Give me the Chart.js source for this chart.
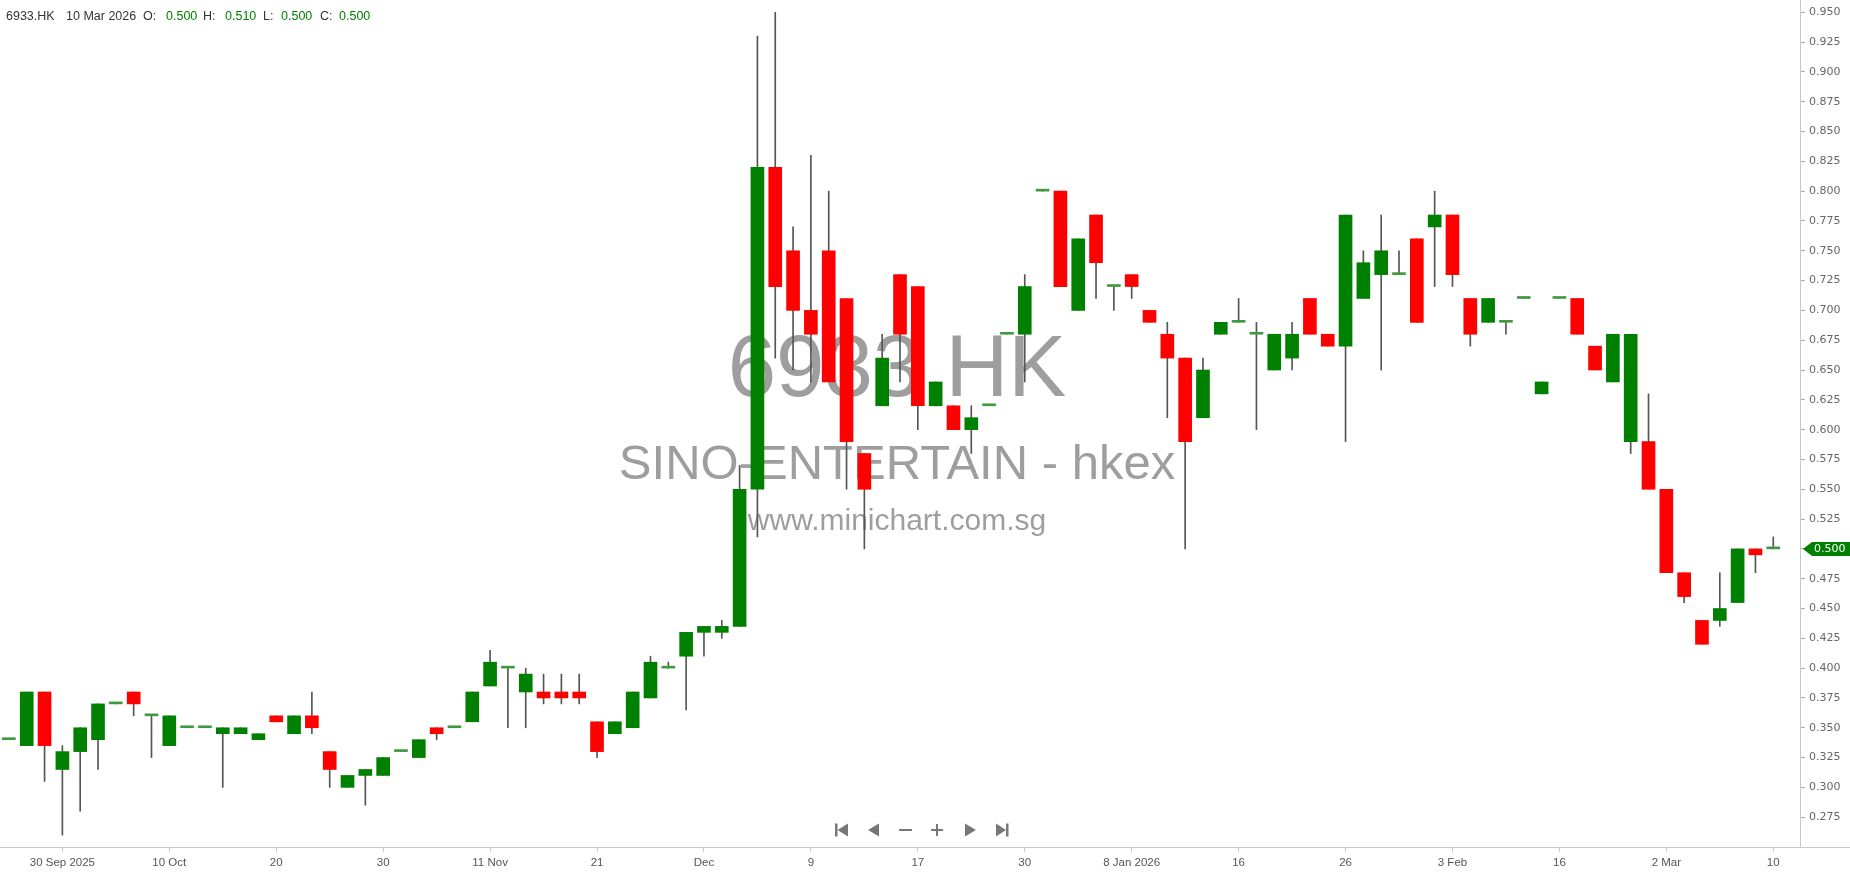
<!DOCTYPE html>
<html><head><meta charset="utf-8">
<script src="https://cdn.jsdelivr.net/npm/chart.js@4.4.1/dist/chart.umd.min.js"></script>
<style>html,body{margin:0;padding:0;background:#fff;overflow:hidden}#wrap{position:relative;width:1850px;height:874px}</style>
</head><body><div id="wrap"><canvas id="c"></canvas></div>
<script>
// ---- data (one entry per trading day) ----
const openP  = [0.34,0.335,0.38,0.315,0.33,0.34,0.37,0.38,0.36,0.335, 0.35,0.35,0.345,0.345,0.34,0.36,0.345,0.36,0.33,0.30, 0.31,0.31,0.33,0.325,0.35,0.35,0.355,0.385,0.40,0.38, 0.38,0.38,0.38,0.355,0.345,0.35,0.375,0.40,0.41,0.43, 0.43,0.435,0.55,0.82,0.75,0.70,0.75,0.71,0.58,0.62, 0.73,0.72,0.62,0.62,0.60,0.62,0.68,0.68,0.80,0.80, 0.70,0.78,0.72,0.73,0.70,0.68,0.66,0.61,0.68,0.69, 0.68,0.65,0.66,0.71,0.68,0.67,0.71,0.73,0.73,0.76, 0.77,0.78,0.71,0.69,0.69,0.71,0.63,0.71,0.71,0.67, 0.64,0.59,0.59,0.55,0.48,0.44,0.44,0.455,0.50,0.50];
const highP  = [0.34,0.38,0.38,0.335,0.35,0.37,0.37,0.38,0.36,0.36, 0.35,0.35,0.35,0.35,0.345,0.36,0.36,0.38,0.33,0.31, 0.315,0.325,0.33,0.34,0.35,0.35,0.38,0.415,0.40,0.40, 0.395,0.395,0.395,0.355,0.355,0.38,0.41,0.405,0.43,0.435, 0.44,0.57,0.93,0.95,0.77,0.83,0.80,0.71,0.58,0.68, 0.73,0.72,0.64,0.62,0.62,0.62,0.68,0.73,0.80,0.80, 0.76,0.78,0.72,0.73,0.70,0.69,0.66,0.66,0.69,0.71, 0.69,0.68,0.69,0.71,0.68,0.78,0.75,0.78,0.75,0.76, 0.80,0.78,0.71,0.71,0.69,0.71,0.64,0.71,0.71,0.67, 0.68,0.68,0.63,0.55,0.48,0.44,0.48,0.50,0.50,0.51];
const lowP   = [0.34,0.335,0.305,0.26,0.28,0.315,0.37,0.36,0.325,0.335, 0.35,0.35,0.30,0.345,0.34,0.355,0.345,0.345,0.30,0.30, 0.285,0.31,0.33,0.325,0.34,0.35,0.355,0.385,0.35,0.35, 0.37,0.37,0.37,0.325,0.345,0.35,0.375,0.40,0.365,0.41, 0.425,0.435,0.51,0.66,0.65,0.64,0.64,0.55,0.50,0.62, 0.64,0.60,0.62,0.60,0.58,0.62,0.68,0.64,0.80,0.72, 0.70,0.71,0.70,0.71,0.69,0.61,0.50,0.61,0.68,0.69, 0.60,0.65,0.65,0.68,0.67,0.59,0.71,0.65,0.73,0.69, 0.72,0.72,0.67,0.69,0.68,0.71,0.63,0.71,0.68,0.65, 0.64,0.58,0.55,0.48,0.455,0.42,0.435,0.455,0.48,0.50];
const closeP = [0.34,0.38,0.335,0.33,0.35,0.37,0.37,0.37,0.36,0.36, 0.35,0.35,0.35,0.35,0.345,0.355,0.36,0.35,0.315,0.31, 0.315,0.325,0.33,0.34,0.345,0.35,0.38,0.405,0.40,0.395, 0.375,0.375,0.375,0.33,0.355,0.38,0.405,0.40,0.43,0.435, 0.435,0.55,0.82,0.72,0.70,0.68,0.64,0.59,0.55,0.66, 0.68,0.62,0.64,0.60,0.61,0.62,0.68,0.72,0.80,0.72, 0.76,0.74,0.72,0.72,0.69,0.66,0.59,0.65,0.69,0.69, 0.68,0.68,0.68,0.68,0.67,0.78,0.74,0.75,0.73,0.69, 0.78,0.73,0.68,0.71,0.69,0.71,0.64,0.71,0.68,0.65, 0.68,0.68,0.55,0.48,0.46,0.42,0.45,0.50,0.495,0.50];
const tickLabels = ['30 Sep 2025','10 Oct','20','30','11 Nov','21','Dec','9','17','30','8 Jan 2026','16','26','3 Feb','16','2 Mar','10'];
const tickBars   = [3,9,15,21,27,33,39,45,51,57,63,69,75,81,87,93,99];
const priceTicks = [0.275,0.300,0.325,0.350,0.375,0.400,0.425,0.450,0.475,0.500,0.525,0.550,0.575,0.600,0.625,0.650,0.675,0.700,0.725,0.750,0.775,0.800,0.825,0.850,0.875,0.900,0.925,0.950];
const symbol = '6933.HK';
const company = 'SINO-ENTERTAIN - hkex';
const site = 'www.minichart.com.sg';
const lastDate = '10 Mar 2026';

// ---- build ----
const GREEN = '#008000', RED = '#ff0000', DOJI = '#3f9a3f';
const labels = openP.map(() => '');
labels.push('');
tickBars.forEach((b, k) => { labels[b] = tickLabels[k]; });
const bodyColors = closeP.map((c, i) => c > openP[i] ? GREEN : (c < openP[i] ? RED : DOJI));

const watermark = {
  id: 'watermark',
  beforeDatasetsDraw(chart) {
    const ctx = chart.ctx;
    ctx.save();
    ctx.fillStyle = '#9e9e9e';
    ctx.textAlign = 'center';
    ctx.textBaseline = 'alphabetic';
    ctx.font = '87px "Liberation Sans", Arial, sans-serif';
    ctx.fillText(symbol, 897, 396);
    ctx.font = '49px "Liberation Sans", Arial, sans-serif';
    ctx.fillText(company, 897, 479);
    ctx.font = '30px "Liberation Sans", Arial, sans-serif';
    ctx.fillText(site, 897, 530);
    ctx.restore();
  }
};

const overlay = {
  id: 'overlay',
  afterDraw(chart) {
    const ctx = chart.ctx;
    const ys = chart.scales.y;
    const area = chart.chartArea;
    ctx.save();
    // full-width x axis line
    ctx.strokeStyle = '#c8c8c8';
    ctx.lineWidth = 1;
    ctx.beginPath();
    ctx.moveTo(0, Math.round(area.bottom) + 0.5);
    ctx.lineTo(1850, Math.round(area.bottom) + 0.5);
    ctx.stroke();

    // header
    const n = closeP.length - 1;
    const hdr = [
      [symbol, 6, '#333'], [lastDate, 66, '#333'],
      ['O:', 143, '#333'], [openP[n].toFixed(3), 166, GREEN],
      ['H:', 203, '#333'], [highP[n].toFixed(3), 225, GREEN],
      ['L:', 263, '#333'], [lowP[n].toFixed(3), 281, GREEN],
      ['C:', 320, '#333'], [closeP[n].toFixed(3), 339, GREEN]
    ];
    ctx.font = '12.5px "Liberation Sans", Arial, sans-serif';
    ctx.textBaseline = 'middle';
    ctx.textAlign = 'left';
    hdr.forEach(([t, x, c]) => { ctx.fillStyle = c; ctx.fillText(t, x, 17); });

    // navigation buttons
    ctx.fillStyle = '#777';
    const cy = 830;
    ctx.fillRect(835, cy - 6.5, 2.5, 13);
    ctx.beginPath(); ctx.moveTo(837.5, cy); ctx.lineTo(848, cy - 6.5); ctx.lineTo(848, cy + 6.5); ctx.closePath(); ctx.fill();
    ctx.beginPath(); ctx.moveTo(868, cy); ctx.lineTo(879, cy - 6.5); ctx.lineTo(879, cy + 6.5); ctx.closePath(); ctx.fill();
    ctx.fillRect(899, cy - 1, 13, 2);
    ctx.fillRect(931, cy - 1, 12, 2);
    ctx.fillRect(936, cy - 6, 2, 12);
    ctx.beginPath(); ctx.moveTo(976, cy); ctx.lineTo(965, cy - 6.5); ctx.lineTo(965, cy + 6.5); ctx.closePath(); ctx.fill();
    ctx.beginPath(); ctx.moveTo(1006, cy); ctx.lineTo(996, cy - 6.5); ctx.lineTo(996, cy + 6.5); ctx.closePath(); ctx.fill();
    ctx.fillRect(1006, cy - 6.5, 2.5, 13);

    // last price badge
    const py = ys.getPixelForValue(closeP[n]);
    ctx.fillStyle = GREEN;
    ctx.beginPath();
    ctx.moveTo(1803, py);
    ctx.lineTo(1812, py - 7);
    ctx.lineTo(1850, py - 7);
    ctx.lineTo(1850, py + 7);
    ctx.lineTo(1812, py + 7);
    ctx.closePath();
    ctx.fill();
    ctx.fillStyle = '#fff';
    ctx.font = '11px "DejaVu Sans", sans-serif';
    ctx.textBaseline = 'middle';
    ctx.fillText(closeP[n].toFixed(3), 1814, py + 0.5);
    ctx.restore();
  }
};

new Chart(document.getElementById('c'), {
  type: 'bar',
  data: {
    labels: labels,
    datasets: [
      {
        label: 'wick',
        data: lowP.map((l, i) => [l, highP[i]]),
        backgroundColor: '#555',
        barThickness: 1,
        grouped: false,
        order: 2,
        borderWidth: 0
      },
      {
        label: 'body',
        data: openP.map((o, i) => [o, closeP[i]]),
        backgroundColor: bodyColors,
        barThickness: 13,
        minBarLength: 2,
        grouped: false,
        order: 1,
        borderWidth: 0
      }
    ]
  },
  options: {
    responsive: true,
    maintainAspectRatio: false,
    animation: false,
    events: [],
    layout: { padding: 0 },
    plugins: { legend: { display: false }, tooltip: { enabled: false }, title: { display: false } },
    scales: {
      x: {
        type: 'category',
        offset: true,
        border: { display: false },
        grid: { display: true, drawOnChartArea: false, drawTicks: true, tickLength: 5, tickColor: '#c8c8c8', offset: false },
        ticks: { autoSkip: false, maxRotation: 0, minRotation: 0, padding: 4, color: '#555',
                 font: { family: '"Liberation Sans", Arial, sans-serif', size: 11.5 } },
        afterBuildTicks(scale) { scale.ticks = tickBars.map(b => ({ value: b })); },
        afterFit(scale) { scale.height = 27; scale.paddingLeft = 0; scale.paddingRight = 0; }
      },
      y: {
        type: 'linear',
        position: 'right',
        min: 0.25,
        max: 0.9603,
        border: { display: true, color: '#c8c8c8' },
        grid: { display: true, drawOnChartArea: false, drawTicks: true, tickLength: 5, tickColor: '#aaa' },
        ticks: { padding: 4, color: '#666', font: { family: '"DejaVu Sans", sans-serif', size: 11 },
                 callback: v => Number(v).toFixed(3) },
        afterBuildTicks(scale) { scale.ticks = priceTicks.map(v => ({ value: v })); },
        afterFit(scale) { scale.width = 50; scale.paddingTop = 0; scale.paddingBottom = 0; }
      }
    }
  },
  plugins: [watermark, overlay]
});
</script>
</body></html>
